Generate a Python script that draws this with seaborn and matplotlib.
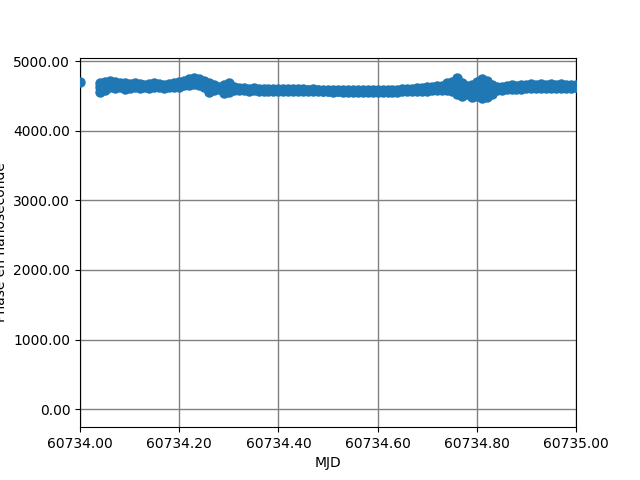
import matplotlib
matplotlib.use("Agg")
import matplotlib.pyplot as plt
from matplotlib.ticker import FormatStrFormatter, MultipleLocator
import pandas as pd
import seaborn as sns

mjd = [60734.04, 60734.05, 60734.06, 60734.07, 60734.08, 60734.09, 60734.10,
       60734.11, 60734.12, 60734.13, 60734.14, 60734.15, 60734.16, 60734.17,
       60734.18, 60734.19, 60734.20, 60734.21, 60734.22, 60734.23, 60734.24,
       60734.25, 60734.26, 60734.27, 60734.28, 60734.29, 60734.30, 60734.31,
       60734.32, 60734.33, 60734.34, 60734.35, 60734.36, 60734.37, 60734.38,
       60734.39, 60734.40, 60734.41, 60734.42, 60734.43, 60734.44, 60734.45,
       60734.46, 60734.47, 60734.48, 60734.49, 60734.50, 60734.51, 60734.52,
       60734.53, 60734.54, 60734.55, 60734.56, 60734.57, 60734.58, 60734.59,
       60734.60, 60734.61, 60734.62, 60734.63, 60734.64, 60734.65, 60734.66,
       60734.67, 60734.68, 60734.69, 60734.70, 60734.71, 60734.72, 60734.73,
       60734.74, 60734.75, 60734.76, 60734.77, 60734.78, 60734.79, 60734.80,
       60734.81, 60734.82, 60734.83, 60734.84, 60734.85, 60734.86, 60734.87,
       60734.88, 60734.89, 60734.90, 60734.91, 60734.92, 60734.93, 60734.94,
       60734.95, 60734.96, 60734.97, 60734.98, 60734.99, 60735.00]

phase_hi = [4690, 4700, 4710, 4700, 4690, 4680, 4670, 4680, 4670, 4660, 4670,
            4680, 4670, 4660, 4670, 4690, 4700, 4720, 4740, 4750, 4740, 4710,
            4680, 4650, 4620, 4660, 4680, 4620, 4610, 4610, 4605, 4610, 4605,
            4600, 4605, 4600, 4600, 4600, 4595, 4600, 4595, 4595, 4590, 4595,
            4590, 4590, 4590, 4590, 4585, 4590, 4585, 4585, 4580, 4585, 4580,
            4580, 4580, 4580, 4585, 4585, 4590, 4595, 4600, 4605, 4610, 4615,
            4625, 4630, 4640, 4645, 4680, 4700, 4760, 4680, 4640, 4660, 4700,
            4740, 4720, 4650, 4630, 4620, 4640, 4650, 4640, 4650, 4660, 4670,
            4660, 4670, 4660, 4670, 4660, 4670, 4660, 4650, 4660]

phase_mid = [4620, 4640, 4660, 4650, 4650, 4640, 4640, 4650, 4640, 4640, 4640,
             4650, 4645, 4635, 4645, 4655, 4665, 4685, 4700, 4710, 4700, 4665,
             4620, 4615, 4610, 4600, 4620, 4605, 4595, 4595, 4590, 4595, 4590,
             4590, 4590, 4585, 4585, 4585, 4585, 4585, 4580, 4580, 4580, 4580,
             4580, 4575, 4575, 4575, 4575, 4575, 4570, 4570, 4570, 4570, 4570,
             4570, 4570, 4570, 4570, 4570, 4575, 4580, 4580, 4585, 4590, 4595,
             4600, 4605, 4610, 4615, 4635, 4635, 4640, 4590, 4585, 4570, 4600,
             4600, 4600, 4585, 4605, 4605, 4620, 4625, 4620, 4625, 4635, 4640,
             4635, 4640, 4635, 4640, 4635, 4640, 4635, 4630, 4630]

phase_lo = [4560, 4590, 4620, 4610, 4620, 4600, 4610, 4620, 4610, 4620, 4610,
            4620, 4620, 4610, 4620, 4620, 4630, 4650, 4660, 4670, 4660, 4620,
            4560, 4580, 4600, 4540, 4560, 4590, 4580, 4580, 4575, 4580, 4575,
            4575, 4575, 4575, 4570, 4575, 4570, 4570, 4570, 4570, 4565, 4570,
            4565, 4565, 4565, 4560, 4565, 4560, 4560, 4560, 4560, 4560, 4560,
            4555, 4560, 4555, 4560, 4560, 4560, 4565, 4565, 4570, 4570, 4570,
            4575, 4580, 4580, 4585, 4590, 4570, 4520, 4500, 4530, 4480, 4500,
            4470, 4490, 4520, 4580, 4590, 4600, 4600, 4600, 4600, 4610, 4610,
            4610, 4610, 4610, 4610, 4610, 4610, 4610, 4610, 4620]

first_mjd = [60734.00]
first_phase = [4700]

df = pd.concat([
    pd.DataFrame({"MJD": first_mjd, "Phase": first_phase}),
    pd.DataFrame({"MJD": mjd, "Phase": phase_lo}),
    pd.DataFrame({"MJD": mjd, "Phase": phase_mid}),
    pd.DataFrame({"MJD": mjd, "Phase": phase_hi}),
], ignore_index=True)

fig, ax = plt.subplots(figsize=(6.4, 4.8), dpi=100)
sns.scatterplot(data=df, x="MJD", y="Phase", ax=ax, color="#1f77b4",
                s=36, edgecolor="#1f77b4", linewidth=1.5, zorder=3,
                legend=False)

ax.set_xlim(60734.0, 60735.0)
ax.set_ylim(-259, 5049)
ax.xaxis.set_major_locator(MultipleLocator(0.2))
ax.yaxis.set_major_locator(MultipleLocator(1000))
ax.xaxis.set_major_formatter(FormatStrFormatter("%.2f"))
ax.yaxis.set_major_formatter(FormatStrFormatter("%.2f"))
ax.grid(True, color="grey", linewidth=1.0)
ax.set_axisbelow(True)
ax.set_xlabel("MJD")
ax.set_ylabel("Phase en nanoseconde")

fig.savefig("out.png", dpi=100)
